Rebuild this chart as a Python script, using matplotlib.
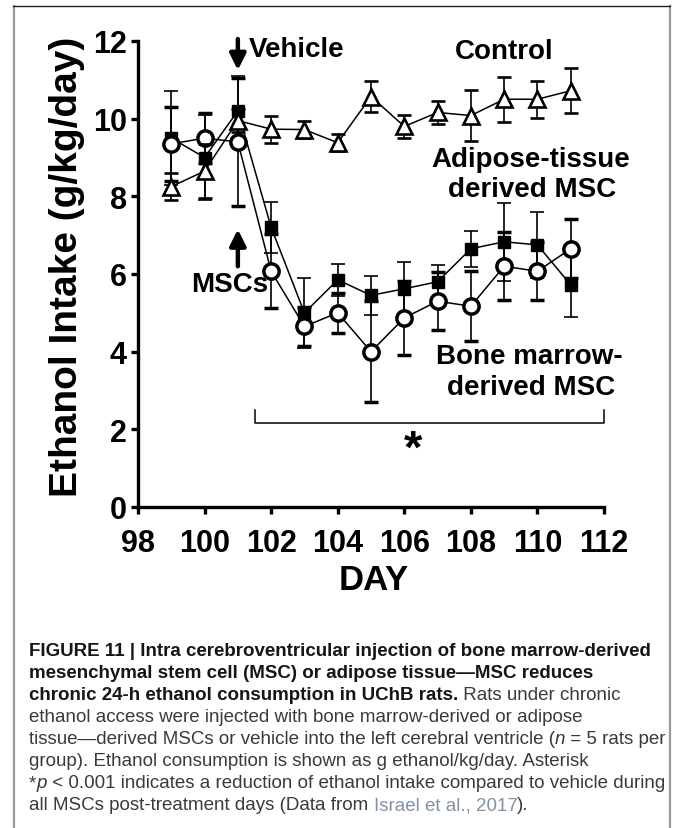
import matplotlib
matplotlib.use('Agg')
import matplotlib.pyplot as plt
from matplotlib.lines import Line2D

# ---------------- data ----------------
days = [99, 100, 101, 102, 103, 104, 105, 106, 107, 108, 109, 110, 111]

control = [8.25, 8.65, 9.95, 9.73, 9.72, 9.38, 10.57, 9.8, 10.16, 10.08, 10.5, 10.5, 10.72]
control_err = [0.35, 0.7, 0.3, 0.35, 0.22, 0.22, 0.4, 0.3, 0.3, 0.65, 0.58, 0.48, 0.58]

adipose = [9.5, 9.0, 10.2, 7.2, 5.0, 5.85, 5.45, 5.62, 5.8, 6.65, 6.83, 6.75, 5.72]
adipose_err = [1.2, 1.1, 0.9, 0.65, 0.9, 0.42, 0.5, 0.7, 0.42, 0.46, 1.0, 0.85, 0.82]

bone = [9.35, 9.5, 9.4, 6.07, 4.65, 5.0, 4.0, 4.87, 5.3, 5.17, 6.2, 6.07, 6.65]
bone_err = [0.95, 0.65, 1.65, 0.95, 0.5, 0.52, 1.3, 0.95, 0.75, 0.9, 0.87, 0.75, 0.76]

xticks = [98, 100, 102, 104, 106, 108, 110, 112]
yticks = [0, 2, 4, 6, 8, 10, 12]

caption_lines = [
    [("FIGURE 11 | Intra cerebroventricular injection of bone marrow-derived", "b")],
    [("mesenchymal stem cell (MSC) or adipose tissue\u2014MSC reduces", "b")],
    [("chronic 24-h ethanol consumption in UChB rats.", "b"), (" Rats under chronic", "r")],
    [("ethanol access were injected with bone marrow-derived or adipose", "r")],
    [("tissue\u2014derived MSCs or vehicle into the left cerebral ventricle (", "r"), ("n", "i"),
     (" = 5 rats per", "r")],
    [("group). Ethanol consumption is shown as g ethanol/kg/day. Asterisk", "r")],
    [("*", "r"), ("p", "i"), (" < 0.001 indicates a reduction of ethanol intake compared to vehicle during", "r")],
    [("all MSCs post-treatment days (Data from ", "r"), ("Israel et al., 2017", "l"), (").", "r")],
]

# ---------------- figure ----------------
W, H = 673, 829
fig = plt.figure(figsize=(W / 100, H / 100), dpi=100)
plt.rcParams['font.family'] = ['Liberation Sans', 'DejaVu Sans']

ax_l, ax_r, ax_b, ax_t = 138, 604, 508, 42
ax = fig.add_axes([ax_l / W, 1 - ax_b / H, (ax_r - ax_l) / W, (ax_b - ax_t) / H])

ax.errorbar(days, adipose, yerr=adipose_err, fmt='-s', color='black', mfc='black', mec='black',
            ms=9, lw=1.1, elinewidth=1.2, capsize=4.8, capthick=1.2, zorder=3, clip_on=False)
ax.errorbar(days, bone, yerr=bone_err, fmt='-o', color='black', mfc='white', mec='black',
            ms=11, mew=2.5, lw=1.1, elinewidth=1.2, capsize=4.8, capthick=1.2, zorder=4, clip_on=False)
ax.errorbar(days, control, yerr=control_err, fmt='-^', color='black', mfc='white', mec='black',
            ms=11.5, mew=1.9, lw=1.1, elinewidth=1.2, capsize=4.8, capthick=1.2, zorder=5, clip_on=False)

ax.set_xlim(98, 112)
ax.set_ylim(0, 12)
ax.set_xticks(xticks)
ax.set_yticks(yticks)
for s in ['top', 'right']:
    ax.spines[s].set_visible(False)
for s in ['left', 'bottom']:
    ax.spines[s].set_linewidth(2.4)
ax.tick_params(axis='both', which='major', direction='out', length=5, width=2.4,
               labelsize=22)
ax.tick_params(axis='x', pad=10)
ax.tick_params(axis='y', pad=3)
for lab in ax.get_xticklabels() + ax.get_yticklabels():
    lab.set_fontweight('bold')

# annotations
tfont = dict(fontsize=20, fontweight='bold', color='black')
ax.annotate('', xy=(101, 11.25), xytext=(101, 12.05),
            arrowprops=dict(arrowstyle='-|>', lw=3.2, color='black', mutation_scale=24,
                            shrinkA=0, shrinkB=0), annotation_clip=False)
ax.text(101.33, 11.8, 'Vehicle', ha='left', va='center', **tfont)
ax.text(109.0, 11.74, 'Control', ha='center', va='center', **tfont)
ax.text(109.8, 8.96, 'Adipose-tissue', ha='center', va='center', **tfont)
ax.text(109.85, 8.19, 'derived MSC', ha='center', va='center', **tfont)
ax.annotate('', xy=(101, 7.15), xytext=(101, 6.2),
            arrowprops=dict(arrowstyle='-|>', lw=3.2, color='black', mutation_scale=24,
                            shrinkA=0, shrinkB=0))
ax.text(100.76, 5.74, 'MSCs', ha='center', va='center', **tfont)
ax.text(109.76, 3.89, 'Bone marrow-', ha='center', va='center', **tfont)
ax.text(109.8, 3.09, 'derived MSC', ha='center', va='center', **tfont)

ax.plot([101.5, 101.5, 112, 112], [2.5, 2.16, 2.16, 2.5], color='black', lw=1.1, clip_on=False)
ax.text(106.25, 1.48, '*', ha='center', va='center', fontsize=34, fontweight='bold')

fig.text(67 / W, 1 - 267 / H, 'Ethanol Intake (g/kg/day)', rotation=90, ha='center', va='center',
         fontsize=28, fontweight='bold')
fig.text(374 / W, 1 - 580 / H, 'DAY', ha='center', va='center', fontsize=25, fontweight='bold')

# frame
fig.add_artist(Line2D([13.5 / W, 13.5 / W], [0, 1 - 7 / H], transform=fig.transFigure,
                      color='#9a9a9a', lw=1.6))
fig.add_artist(Line2D([669.5 / W, 669.5 / W], [0, 1 - 7 / H], transform=fig.transFigure,
                      color='#9a9a9a', lw=1.6))
fig.add_artist(Line2D([13 / W, 670 / W], [1 - 7 / H, 1 - 7 / H], transform=fig.transFigure,
                      color='#222222', lw=1.0))

# caption
fig.canvas.draw()
renderer = fig.canvas.get_renderer()
cap_family = ['Liberation Sans', 'DejaVu Sans']
styles = {
    'b': dict(fontweight='bold', color='#161616'),
    'r': dict(fontweight='normal', color='#3a3a3a'),
    'i': dict(fontweight='normal', style='italic', color='#3a3a3a'),
    'l': dict(fontweight='normal', color='#7f93a8'),
}


def text_width(s, size, st):
    t = fig.text(0, 0, '|' + s + '|', fontsize=size, family=cap_family, **styles[st])
    w = t.get_window_extent(renderer).width
    t.remove()
    t2 = fig.text(0, 0, '||', fontsize=size, family=cap_family, **styles[st])
    w2 = t2.get_window_extent(renderer).width
    t2.remove()
    return w - w2


base = 12.0
w1 = text_width(caption_lines[0][0][0], base, 'b')
cap_size = base * 622.0 / w1

x0 = 29
y0 = 652
dy = 22.0
for i, line in enumerate(caption_lines):
    x = x0
    y = y0 + i * dy
    for seg, st in line:
        fig.text(x / W, 1 - y / H, seg, fontsize=cap_size, family=cap_family, ha='left',
                 va='center', **styles[st])
        x += text_width(seg, cap_size, st)

fig.savefig('out.png', dpi=100)
